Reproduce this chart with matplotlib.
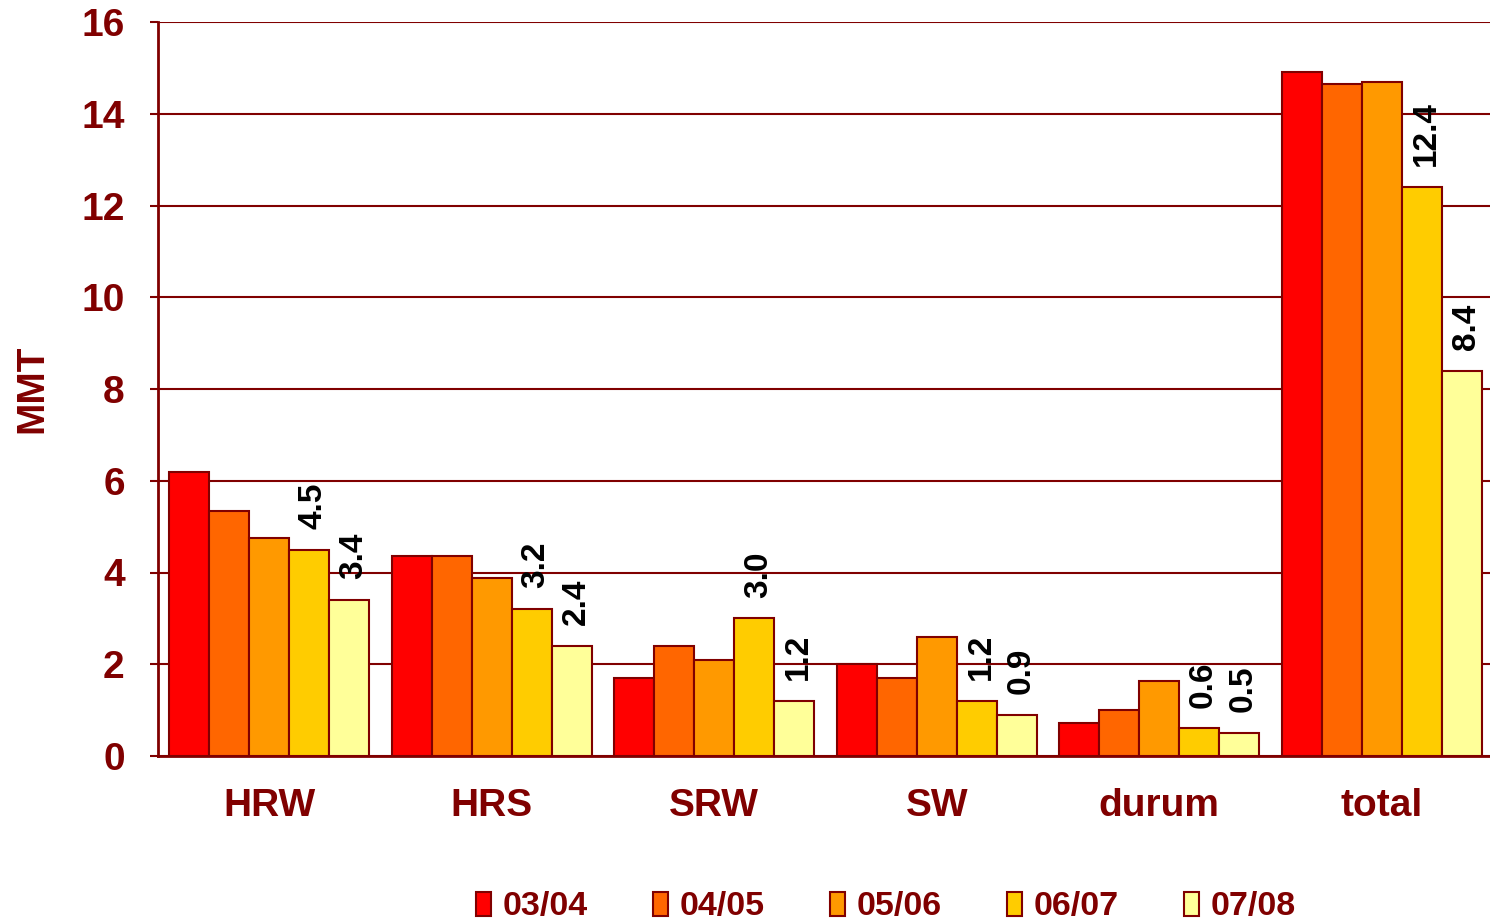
import matplotlib
matplotlib.use("Agg")
import matplotlib.pyplot as plt
import numpy as np
from matplotlib.patches import Patch

categories = ["HRW", "HRS", "SRW", "SW", "durum", "total"]
seasons = ["03/04", "04/05", "05/06", "06/07", "07/08"]
v_0304 = [6.2, 4.35, 1.7, 2.0, 0.72, 14.9]
v_0405 = [5.35, 4.35, 2.4, 1.7, 1.0, 14.65]
v_0506 = [4.75, 3.88, 2.1, 2.6, 1.63, 14.7]
v_0607 = [4.5, 3.2, 3.0, 1.2, 0.6, 12.4]
v_0708 = [3.4, 2.4, 1.2, 0.9, 0.5, 8.4]
series = [v_0304, v_0405, v_0506, v_0607, v_0708]
labeled = [False, False, False, True, True]
yticks = [0, 2, 4, 6, 8, 10, 12, 14, 16]

colors = ["#FF0000", "#FF6600", "#FF9900", "#FFCC00", "#FFFF99"]
dark = "#800000"

plt.rcParams['font.family'] = ['Liberation Sans', 'DejaVu Sans']
plt.rcParams['font.weight'] = 'bold'

fig = plt.figure(figsize=(14.9, 9.23), dpi=100)
ax = fig.add_axes([158/1490, 1-756/923, (1493-158)/1490, (756-22)/923])

x = np.arange(len(categories))
w = 0.18
for i, (vals, c) in enumerate(zip(series, colors)):
    pos = x + (i - 2) * w
    bars = ax.bar(pos, vals, width=w, color=c, edgecolor=dark, linewidth=1.5, zorder=3)
    if labeled[i]:
        for b, v in zip(bars, vals):
            ax.annotate(f"{v:.1f}", (b.get_x() + b.get_width()/2, v),
                        xytext=(3, 15), textcoords="offset points",
                        rotation=90, ha="center", va="bottom",
                        fontsize=24, fontweight="bold", color="black", zorder=4)

ax.set_xlim(-0.5, len(categories) - 0.5)
ax.set_ylim(0, 16)
ax.set_yticks(yticks)
ax.set_yticklabels([str(t) for t in yticks], fontsize=28, fontweight="bold", color=dark)
ax.set_xticks(x)
ax.set_xticklabels(categories, fontsize=28, fontweight="bold", color=dark)
ax.tick_params(axis="x", length=0, pad=23)
ax.tick_params(axis="y", length=6, width=1.5, color=dark, pad=18)
ax.yaxis.grid(True, color=dark, linewidth=1.5, zorder=0)
ax.set_axisbelow(True)
for s in ["top", "right"]:
    ax.spines[s].set_visible(False)
for s in ["left", "bottom"]:
    ax.spines[s].set_color(dark)
    ax.spines[s].set_linewidth(2)
ax.set_ylabel("MMT", fontsize=28, fontweight="bold", color=dark, labelpad=22)

handles = [Patch(facecolor=c, edgecolor=dark, linewidth=1.5) for c in colors]
leg = fig.legend(handles, seasons, loc="center", bbox_to_anchor=(886/1490, 1-907/923),
                 ncol=5, frameon=False, fontsize=24.5, handlelength=0.45, handleheight=0.7,
                 handletextpad=0.35, columnspacing=1.9)
for t in leg.get_texts():
    t.set_color(dark)
    t.set_fontweight("bold")

fig.savefig("out.png", dpi=100)
